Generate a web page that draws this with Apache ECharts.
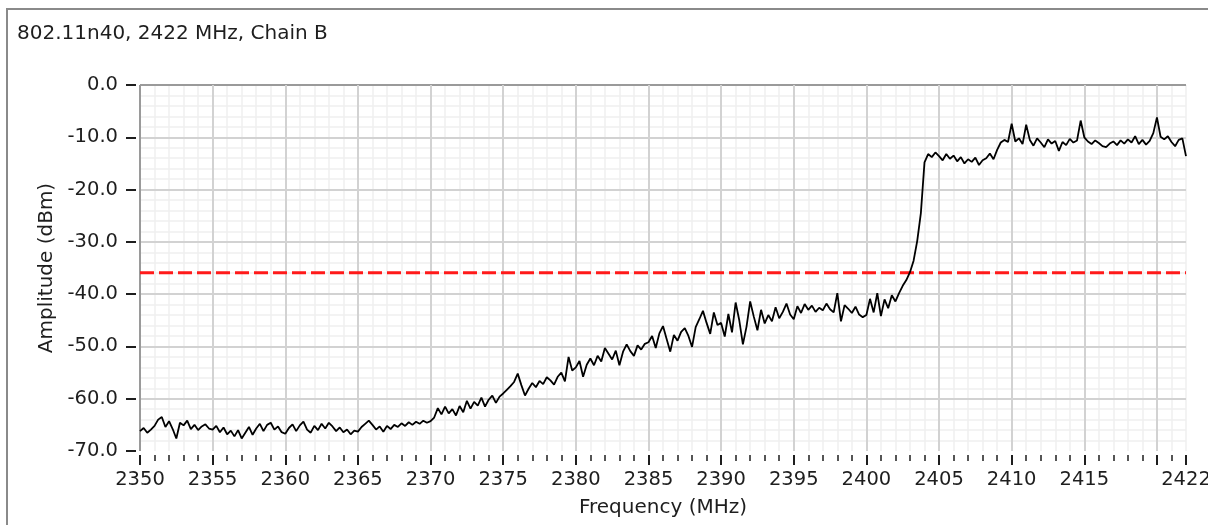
<!DOCTYPE html>
<html><head><meta charset="utf-8">
<script src="https://cdn.jsdelivr.net/npm/echarts@6/dist/echarts.min.js"></script>
<style>html,body{margin:0;padding:0;background:#fff}#c{width:1208px;height:525px}</style>
</head><body><div id="c"></div>
<script>
const chartTitle = '802.11n40, 2422 MHz, Chain B';
const xAxisName = 'Frequency (MHz)';
const yAxisName = 'Amplitude (dBm)';
const freqStart = 2350;
const freqStep = 0.25;
const xMin = 2350, xMax = 2422, xMajor = 5, xMinor = 1;
const yMin = -70, yMax = 0, yMajor = 10;
const limitLevel = -35.9;
const amplitude = [
-66.2,-65.6,-66.5,-65.9,-65.2,-64.0,-63.5,-65.4,-64.3,-65.8,-67.6,-64.6,-65.1,-64.2,-65.8,-65.0,-66.0,-65.3,-64.9,-65.7,
-65.9,-65.2,-66.4,-65.5,-66.8,-66.1,-67.2,-66.0,-67.6,-66.5,-65.4,-66.9,-65.7,-64.8,-66.2,-65.0,-64.6,-65.9,-65.3,-66.4,
-66.7,-65.6,-64.9,-66.2,-65.1,-64.4,-65.9,-66.5,-65.2,-66.0,-64.8,-65.7,-64.6,-65.3,-66.2,-65.5,-66.4,-65.9,-66.8,-66.1,
-66.3,-65.4,-64.8,-64.2,-65.0,-65.9,-65.3,-66.3,-65.2,-65.8,-65.0,-65.4,-64.7,-65.2,-64.5,-65.0,-64.4,-64.8,-64.2,-64.6,
-64.3,-63.6,-61.8,-63.0,-61.5,-62.8,-62.0,-63.2,-61.4,-62.6,-60.4,-61.9,-60.6,-61.3,-59.8,-61.5,-60.2,-59.4,-60.8,-59.6,
-59.0,-58.3,-57.6,-56.8,-55.2,-57.4,-59.4,-58.1,-57.0,-57.8,-56.6,-57.2,-55.9,-56.5,-57.3,-55.8,-55.0,-56.7,-52.0,-54.6,
-54.0,-52.8,-55.8,-53.5,-52.3,-53.6,-51.8,-52.9,-50.3,-51.4,-52.5,-50.8,-53.6,-51.0,-49.6,-50.9,-51.8,-49.8,-50.6,-49.5,
-49.2,-48.0,-50.3,-47.5,-46.1,-48.6,-51.0,-47.8,-48.9,-47.2,-46.5,-48.0,-50.1,-46.3,-44.8,-43.2,-45.5,-47.6,-43.5,-45.9,
-45.5,-48.1,-43.8,-47.3,-41.6,-45.0,-49.6,-46.2,-41.4,-44.3,-46.9,-43.0,-45.6,-44.0,-45.2,-42.5,-44.6,-43.4,-41.8,-43.9,
-44.8,-42.3,-43.6,-41.9,-43.0,-42.2,-43.4,-42.6,-43.1,-41.8,-42.9,-43.5,-39.8,-45.2,-42.1,-42.8,-43.6,-42.4,-43.9,-44.4,
-44.0,-40.9,-43.5,-39.8,-44.2,-41.0,-42.7,-40.2,-41.4,-39.8,-38.4,-37.3,-35.8,-33.6,-29.8,-24.5,-14.8,-13.2,-13.8,-12.9,
-13.6,-14.4,-13.2,-14.1,-13.5,-14.6,-13.8,-15.0,-14.2,-14.7,-13.9,-15.3,-14.4,-14.0,-13.1,-14.2,-12.4,-11.0,-10.5,-10.9,
-7.4,-10.8,-10.2,-11.3,-7.6,-10.5,-11.6,-10.2,-11.0,-11.9,-10.4,-11.2,-10.7,-12.6,-10.9,-11.5,-10.3,-11.0,-10.6,-6.8,
-10.0,-10.8,-11.3,-10.6,-11.1,-11.7,-11.9,-11.2,-10.8,-11.5,-10.6,-11.2,-10.4,-11.0,-9.8,-11.3,-10.5,-11.4,-10.7,-9.2,
-6.2,-9.9,-10.4,-9.8,-10.9,-11.7,-10.5,-10.2,-13.6
];

const traceData = amplitude.map((v, i) => [freqStart + i * freqStep, v]);
const limitData = [[xMin, limitLevel], [xMax, limitLevel]];

const FONT = 'DejaVu Sans';
const TXT = '#1e1e1e';
const FRAME = '#9a9a9a';
const MAJOR = '#d2d2d2';
const MINOR = '#efefef';
const gridBox = {left: 140, right: 22, top: 85, bottom: 74, containLabel: false, outerBoundsMode: 'none'};

const chart = echarts.init(document.getElementById('c'), null, {renderer: 'canvas'});
chart.setOption({
  animation: false,
  backgroundColor: '#ffffff',
  title: {
    text: chartTitle, left: 17, top: 23, padding: 0,
    textStyle: {fontFamily: FONT, fontSize: 20, fontWeight: 'normal', color: TXT, lineHeight: 22}
  },
  graphic: [
    {type: 'line', shape: {x1: 7, y1: 9, x2: 7, y2: 525}, style: {stroke: '#8a8a8a', lineWidth: 2}, silent: true},
    {type: 'line', shape: {x1: 6, y1: 9, x2: 1208, y2: 9}, style: {stroke: '#8a8a8a', lineWidth: 2}, silent: true}
  ],
  grid: [Object.assign({}, gridBox), Object.assign({}, gridBox)],
  xAxis: [
    {
      gridIndex: 1, z: 0,
      type: 'value', min: xMin, max: xMax, interval: xMinor, position: 'bottom', offset: 4,
      axisLine: {show: false, onZero: false},
      axisTick: {show: true, length: 6, lineStyle: {color: TXT, width: 1.5}},
      axisLabel: {show: false},
      splitLine: {show: true, lineStyle: {color: ['transparent', MINOR, MINOR, MINOR, MINOR], width: 1.5}}
    },
    {
      gridIndex: 0, z: 1,
      type: 'value', min: xMin, max: xMax, interval: xMajor, position: 'bottom', offset: 4,
      axisLine: {show: false, onZero: false},
      axisTick: {show: true, length: 10, lineStyle: {color: TXT, width: 2}},
      axisLabel: {
        show: true, margin: 15, fontFamily: FONT, fontSize: 19.5, color: TXT,
        formatter: v => (v === 2420 ? '' : String(v))
      },
      splitLine: {show: true, lineStyle: {
        color: [FRAME, MAJOR, MAJOR, MAJOR, MAJOR, MAJOR, MAJOR, MAJOR, MAJOR, MAJOR, MAJOR, MAJOR, MAJOR, MAJOR, MAJOR, 'transparent'],
        width: 2}},
      name: xAxisName, nameLocation: 'middle', nameGap: 43,
      nameTextStyle: {fontFamily: FONT, fontSize: 20, color: TXT}
    }
  ],
  yAxis: [
    {
      gridIndex: 0, z: 1,
      type: 'value', min: yMin, max: yMax, interval: yMajor, offset: 4,
      axisLine: {show: false, onZero: false},
      axisTick: {show: true, length: 10, lineStyle: {color: TXT, width: 2}},
      axisLabel: {margin: 18, fontFamily: FONT, fontSize: 19.5, color: TXT, formatter: v => v.toFixed(1)},
      splitLine: {show: true, lineStyle: {color: ['transparent', MAJOR, MAJOR, MAJOR, MAJOR, MAJOR, MAJOR, FRAME], width: 2}},
      minorTick: {show: false, splitNumber: 5},
      minorSplitLine: {show: true, lineStyle: {color: MINOR, width: 1.5}},
      name: yAxisName, nameLocation: 'middle', nameGap: 78, nameRotate: 90,
      nameTextStyle: {fontFamily: FONT, fontSize: 20, color: TXT}
    },
    {
      gridIndex: 1, type: 'value', min: yMin, max: yMax, interval: yMajor, show: false,
      axisLine: {onZero: false},
      splitLine: {show: false}
    }
  ],
  series: [
    {
      type: 'line', xAxisIndex: 1, yAxisIndex: 0, data: limitData, showSymbol: false, silent: true, z: 3,
      lineStyle: {color: '#ff1a1a', width: 3, type: [14, 5]}
    },
    {
      type: 'line', xAxisIndex: 1, yAxisIndex: 0, data: traceData, showSymbol: false, silent: true, z: 4,
      lineStyle: {color: '#000000', width: 1.8}
    }
  ]
});
</script>
</body></html>
